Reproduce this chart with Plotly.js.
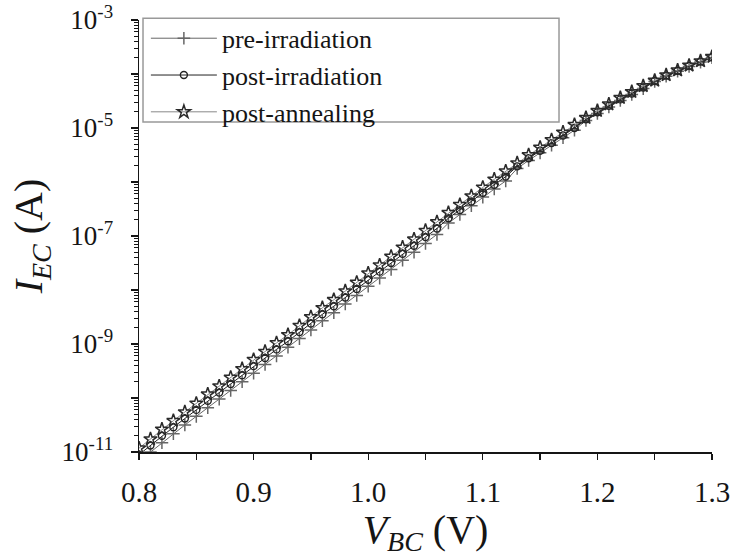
<!DOCTYPE html>
<html>
<head>
<meta charset="utf-8">
<script src="https://cdn.plot.ly/plotly-3.0.1.min.js"></script>
<style>html,body{margin:0;padding:0;background:#fff;}#chart{width:733px;height:557px;}</style>
</head>
<body>
<div id="chart"></div>
<script>
// V_BC (V)
const vbc = [0.80,0.81,0.82,0.83,0.84,0.85,0.86,0.87,0.88,0.89,
             0.90,0.91,0.92,0.93,0.94,0.95,0.96,0.97,0.98,0.99,
             1.00,1.01,1.02,1.03,1.04,1.05,1.06,1.07,1.08,1.09,
             1.10,1.11,1.12,1.13,1.14,1.15,1.16,1.17,1.18,1.19,
             1.20,1.21,1.22,1.23,1.24,1.25,1.26,1.27,1.28,1.29,1.30];
// log10 of I_EC (A)
const logPre = [-11.17,-11.00,-10.83,-10.66,-10.50,-10.34,-10.18,-10.02,-9.86,-9.70,
                -9.54,-9.38,-9.22,-9.06,-8.90,-8.74,-8.57,-8.42,-8.26,-8.10,
                -7.93,-7.78,-7.62,-7.45,-7.30,-7.14,-6.97,-6.76,-6.60,-6.44,
                -6.28,-6.13,-5.98,-5.75,-5.60,-5.46,-5.32,-5.18,-5.04,-4.86,
                -4.73,-4.61,-4.49,-4.38,-4.27,-4.14,-4.04,-3.95,-3.86,-3.78,-3.70];
const logIrr = [-11.05,-10.88,-10.70,-10.54,-10.38,-10.22,-10.05,-9.90,-9.74,-9.58,
                -9.41,-9.26,-9.10,-8.95,-8.78,-8.62,-8.45,-8.30,-8.14,-7.98,
                -7.81,-7.66,-7.50,-7.33,-7.18,-7.02,-6.86,-6.67,-6.52,-6.36,
                -6.20,-6.05,-5.90,-5.71,-5.56,-5.42,-5.28,-5.14,-5.00,-4.84,
                -4.71,-4.59,-4.47,-4.36,-4.25,-4.13,-4.03,-3.94,-3.85,-3.77,-3.69];
const logAnn = [-10.93,-10.76,-10.58,-10.42,-10.26,-10.10,-9.93,-9.78,-9.62,-9.46,
                -9.29,-9.14,-8.98,-8.83,-8.66,-8.50,-8.33,-8.18,-8.02,-7.86,
                -7.69,-7.54,-7.38,-7.21,-7.06,-6.90,-6.74,-6.57,-6.42,-6.26,
                -6.10,-5.95,-5.80,-5.65,-5.50,-5.36,-5.22,-5.08,-4.94,-4.81,
                -4.68,-4.56,-4.44,-4.33,-4.22,-4.12,-4.02,-3.93,-3.84,-3.76,-3.68];
const seriesNames = ['pre-irradiation','post-irradiation','post-annealing'];
const xTickVals = [0.8,0.9,1.0,1.1,1.2,1.3];
const xTickText = ['0.8','0.9','1.0','1.1','1.2','1.3'];
const yTickVals = [1e-3,1e-4,1e-5,1e-6,1e-7,1e-8,1e-9,1e-10,1e-11];
const yTickText = ['10<sup>-3</sup>','','10<sup>-5</sup>','','10<sup>-7</sup>','','10<sup>-9</sup>','','10<sup>-11</sup>'];

const toAmp = a => a.map(v => Math.pow(10, v));
const FONT = 'Liberation Serif, Times New Roman, serif';
const INK = '#151515';

const traces = [
  {x: vbc, y: toAmp(logPre), name: seriesNames[0], legendgroup:'a', mode:'lines+markers',
   line:{color:'#666', width:1},
   marker:{symbol:'cross-thin-open', size:9, line:{color:'#111', width:1.5}}},
  {x: vbc, y: toAmp(logIrr), name: seriesNames[1], legendgroup:'b', mode:'lines+markers',
   line:{color:'#222', width:1},
   marker:{symbol:'circle-open', size:7, color:'#222', line:{color:'#222', width:1.4}}},
  {x: vbc, y: toAmp(logAnn), name: seriesNames[2], legendgroup:'c', mode:'lines+markers',
   line:{color:'#888', width:1},
   marker:{symbol:'star-open', size:10, color:'#2a2a2a', line:{color:'#2a2a2a', width:1.5}}}
];

const layout = {
  width: 733, height: 557,
  margin: {l:139, r:21, t:20, b:105},
  paper_bgcolor:'#fff', plot_bgcolor:'#fff',
  font: {family: FONT, color: INK},
  showlegend: true,
  legend: {x:0.012, y:1.012, xanchor:'left', yanchor:'top', bgcolor:'rgba(0,0,0,0)',
           borderwidth:0, font:{family:FONT, size:26, color:INK},
           itemwidth:66, tracegroupgap:0, traceorder:'normal'},
  xaxis: {range:[0.8,1.3], tickmode:'array', tickvals:xTickVals, ticktext:xTickText,
          ticks:'outside', ticklen:6, tickwidth:1.3, tickcolor:INK,
          minor:{tickmode:'linear', tick0:0.8, dtick:0.05, ticks:'outside', ticklen:6, tickwidth:1.3, tickcolor:INK, showgrid:false},
          showline:true, linecolor:INK, linewidth:1.5, showgrid:false, zeroline:false,
          tickfont:{family:FONT, size:29, color:INK}, ticklabelstandoff:8,
          title:{text:'<i>V</i><sub><i>BC</i></sub> (V)', font:{family:FONT, size:40, color:INK}, standoff:4}},
  yaxis: {type:'log', range:[-11,-3], tickmode:'array', tickvals:yTickVals, ticktext:yTickText,
          ticks:'outside', ticklen:7, tickwidth:1.3, tickcolor:INK,
          minor:{dtick:'D1', ticks:'outside', ticklen:4, tickwidth:1, tickcolor:INK, showgrid:false},
          showline:true, linecolor:INK, linewidth:1.5, showgrid:false, zeroline:false,
          tickfont:{family:FONT, size:27, color:INK}, ticklabelstandoff:12,
          title:{text:'<i>I</i><sub><i>EC</i></sub> (A)', font:{family:FONT, size:40, color:INK}, standoff:6}},
  shapes: [{type:'rect', xref:'paper', yref:'paper', x0:0.007, x1:0.733, y0:0.764, y1:1.004,
            line:{color:'#999', width:1.5}, fillcolor:'rgba(0,0,0,0)'}]
};

Plotly.newPlot('chart', traces, layout, {displayModeBar:false, staticPlot:true});
</script>
</body>
</html>
